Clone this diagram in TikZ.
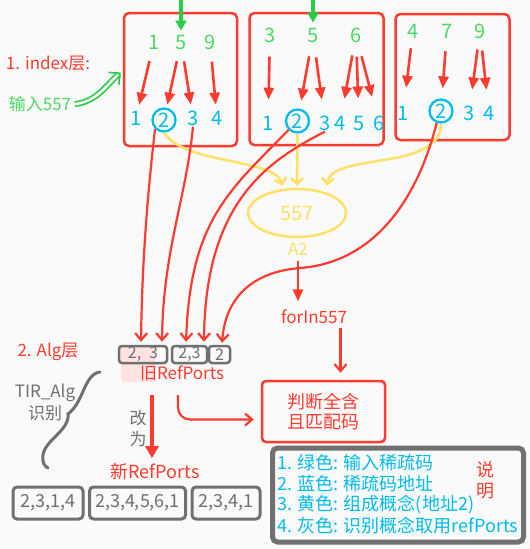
\documentclass[tikz,border=0pt]{standalone}
\usepackage{fontspec}
\setmainfont{Noto Sans CJK SC}
\usetikzlibrary{arrows.meta,positioning,shapes.geometric}

\definecolor{myred}{RGB}{255,59,48}
\definecolor{mygreen}{RGB}{76,217,100}
\definecolor{arrowgreen}{RGB}{40,205,70}
\definecolor{myblue}{RGB}{0,188,236}
\definecolor{myyellow}{RGB}{255,224,104}
\definecolor{mygray}{RGB}{112,112,112}
\definecolor{bgcol}{RGB}{250,250,250}

\tikzset{
  layerbox/.style={draw=myred, line width=2.5pt, rounded corners=5pt},
  greennum/.style={text=mygreen, font=\fontsize{20}{24}\selectfont, inner sep=1pt},
  bluenum/.style={text=myblue, font=\fontsize{20}{24}\selectfont, inner sep=1pt},
  addrnum/.style={bluenum, draw=myblue, circle, line width=2.3pt, minimum size=23pt, inner sep=0pt},
  maparrow/.style={draw=myred, line width=2.6pt, -{Triangle[length=12pt,width=10pt]}},
  greenarrow/.style={draw=arrowgreen, line width=4pt, -{Triangle[length=10pt,width=11pt]}},
  refline/.style={draw=myred, line width=2.2pt, -{Straight Barb[length=7pt,width=12pt]}},
  yline/.style={draw=myyellow, line width=2.5pt, -{Straight Barb[length=6pt,width=12pt]}},
  redtext/.style={text=myred, font=\fontsize{17}{20}\selectfont},
  graytext/.style={text=mygray, font=\fontsize{17}{21}\selectfont},
  portbox/.style={draw=mygray, line width=2.5pt, rounded corners=3pt, text=mygray,
    font=\fontsize{16}{16}\selectfont, inner sep=0pt, minimum height=17pt},
  newbox/.style={draw=mygray, line width=3pt, rounded corners=4pt, text=mygray,
    font=\fontsize{18}{20}\selectfont, inner sep=0pt, minimum height=32pt},
  legtext/.style={text=myblue, font=\fontsize{18}{20}\selectfont, inner sep=0pt, anchor=west},
}

\begin{document}
\begin{tikzpicture}[x=1pt,y=-1pt]
            \useasboundingbox (0,0) rectangle (530,549);
            \fill[bgcol] (0,0) rectangle (530,549);

            % index layer boxes
            \node[layerbox, minimum width=113pt, minimum height=133pt] (box1) at (180.5,79.5) {};
            \node[layerbox, minimum width=134pt, minimum height=132pt] (box2) at (316.5,79) {};
            \node[layerbox, minimum width=114pt, minimum height=126pt] (box3) at (452.5,77) {};

            \foreach \n/\x/\y/\t in {g1a/154/42/1, g1b/181/42/5, g1c/210/42/9,
                                    g2a/270/35/3, g2b/313/35/5, g2c/356/35/6,
                                    g3a/413/31/4, g3b/447/31/7, g3c/480/31/9}
                \node[greennum] (\n) at (\x,\y) {\t};

            \foreach \n/\x/\y/\t in {b1a/136/118/1, b1c/193/118/3, b1d/217/118/4,
                                    b2a/268/123/1, b2c/325/123/3, b2d/340/123/4, b2e/359/123/5, b2f/379/123/6,
                                    b3a/403/113/1, b3c/469/113/3, b3d/489/113/4}
                \node[bluenum] (\n) at (\x,\y) {\t};

            \foreach \n/\x/\y in {b1b/164/120, b2b/297.5/121, b3b/441/111}
                \node[addrnum] (\n) at (\x,\y) {2};

            \foreach \a/\b/\p/\q in {g1a/b1a/11/5, g1b/b1b/11/3, g1b/b1c/11/5, g1c/b1d/11/5,
                                    g2a/b2a/13/15, g2b/b2b/13/8, g2b/b2c/14/15, g2c/b2d/12/16, g2c/b2e/13/16, g2c/b2f/13/18,
                                    g3a/b3a/9/17, g3b/b3b/12/10, g3c/b3c/10/15, g3c/b3d/11/15}
                \draw[maparrow, shorten <=\p pt, shorten >=\q pt] (\a) -- (\b);

            % green input
            \coordinate (top1) at (181,-2);
            \coordinate (top2) at (313,-2);
            \draw[greenarrow, shorten >=3pt] (top1) -- (g1b);
            \draw[greenarrow, shorten >=4pt] (top2) -- (g2b);

            \node[redtext] (idx) at (48,63) {1. index层:};
            \node[text=mygreen, font=\fontsize{17}{20}\selectfont] (in557) at (40,104) {输入557};
            \draw[draw=arrowgreen, double=bgcol, line width=1.7pt, double distance=2.6pt,
                  -{Straight Barb[length=8pt,width=16pt]}]
                (in557.east) .. controls +(22,-2) and +(-14,12) .. ([yshift=7pt,xshift=-2pt]box1.west);

            % concept 557
            \node[draw=myyellow, line width=2.5pt, ellipse, minimum width=98pt, minimum height=48pt,
                  text=myyellow, font=\fontsize{20}{24}\selectfont] (e557) at (297,213) {557};
            \node[text=myyellow, font=\fontsize{17}{20}\selectfont] (a2) at (298,249) {A2};

            \draw[yline, shorten >=2pt] (b1b.south) .. controls (185,165) and (275,158) .. ([xshift=-14pt]e557.north);
            \draw[yline, shorten >=2pt] (b2b.south) -- (e557.north);
            \draw[yline, shorten >=2pt] (b3b.south) .. controls (441,172) and (330,152) .. ([xshift=30pt]e557.north);

            \node[redtext] (forin) at (314,317) {forIn557};
            \draw[maparrow, shorten <=2pt, shorten >=5pt] (a2.south) -- (a2.south |- forin.north);

            % Alg layer
            \node[redtext] (alg) at (48,352) {2. Alg层};
            \fill[myred!14, rounded corners=3pt] (121,347) rectangle (155,382);
            \node[portbox, minimum width=48pt] (ref1) at (143,354.5) {2,\enspace 3};
            \node[portbox, minimum width=35pt] (ref2) at (189.5,354.5) {2,3};
            \node[portbox, minimum width=21pt] (ref3) at (219.5,354.5) {2};
            \node[redtext] (oldref) at (182,373) {旧RefPorts};

            \draw[refline, shorten >=3pt] (b1b.south west) .. controls (148,190) and (142,260) .. ([xshift=-2pt]ref1.north);
            \draw[refline, shorten >=3pt] (b1c.south) .. controls (186,200) and (163,250) .. ([xshift=19pt]ref1.north);
            \draw[refline, shorten >=3pt] (b2b.south west) .. controls (230,190) and (190,220) .. ([xshift=-3.5pt]ref2.north);
            \draw[refline, shorten >=3pt] (b2c.south) .. controls (270,160) and (205,200) .. ([xshift=14.5pt]ref2.north);
            \draw[refline, shorten >=2pt] (b3b.250) .. controls (420,190) and (380,262) .. (300,268)
                .. controls (250,272) and (225,300) .. ([xshift=2.5pt]ref3.north);

            \node[draw=myred, line width=2.5pt, rounded corners=4pt, minimum width=123pt, minimum height=61pt,
                  align=center, text=myred, font=\fontsize{18}{20}\selectfont] (judge) at (323.5,411.5) {判断全含\\且匹配码};
            \draw[refline, shorten >=7pt] ([xshift=17pt]judge.north |- forin.south) -- ([xshift=17pt]judge.north);
            \draw[refline, rounded corners=12pt, shorten >=7pt]
                ([xshift=-4pt,yshift=-11pt]oldref.south) |- ([yshift=-8pt]judge.west);

            % TIR_Alg brace
            \node[graytext] (tir) at (45,393) {TIR\_Alg};
            \node[graytext] (shibie) at (45,413) {识别};
            \draw[mygray, line width=3pt, line cap=round]
                (100,372) .. controls (84,374) and (84,402) .. (68,414)
                .. controls (70,430) and (45,440) .. (43,455) .. controls (42,462) and (44,466) .. (48,468);

            \node[graytext, align=center] (gaiwei) at (138,428) {改\\为};
            \node[text=myred, font=\fontsize{18}{20}\selectfont] (newref) at (155,472) {新RefPorts};
            \draw[draw=myred, line width=4pt, -{Triangle[length=12pt,width=13pt]}]
                ([xshift=-30pt,yshift=-11pt]oldref.south) -- ([xshift=-3pt,yshift=2pt]newref.north);

            \node[newbox, minimum width=70pt] (nb1) at (48,503) {2,3,1,4};
            \node[newbox, minimum width=96pt] (nb2) at (137.5,503) {2,3,4,5,6,1};
            \node[newbox, minimum width=68pt] (nb3) at (226,503) {2,3,4,1};

            % legend
            \node[draw=mygray, line width=5pt, rounded corners=5pt, minimum width=251pt, minimum height=94pt] (legend) at (398,495) {};
            \foreach \i/\y/\t in {1/463/{1. 绿色: 输入稀疏码}, 2/484/{2. 蓝色: 稀疏码地址},
                                 3/505/{3. 黄色: 组成概念(地址2)}, 4/526/{4. 灰色: 识别概念取用refPorts}}
                \node[legtext] (leg\i) at (277,\y) {\t};
            \node[redtext, align=center, font=\fontsize{18}{21}\selectfont] (shuoming) at (485,480) {说\\明};
\end{tikzpicture}
\end{document}
